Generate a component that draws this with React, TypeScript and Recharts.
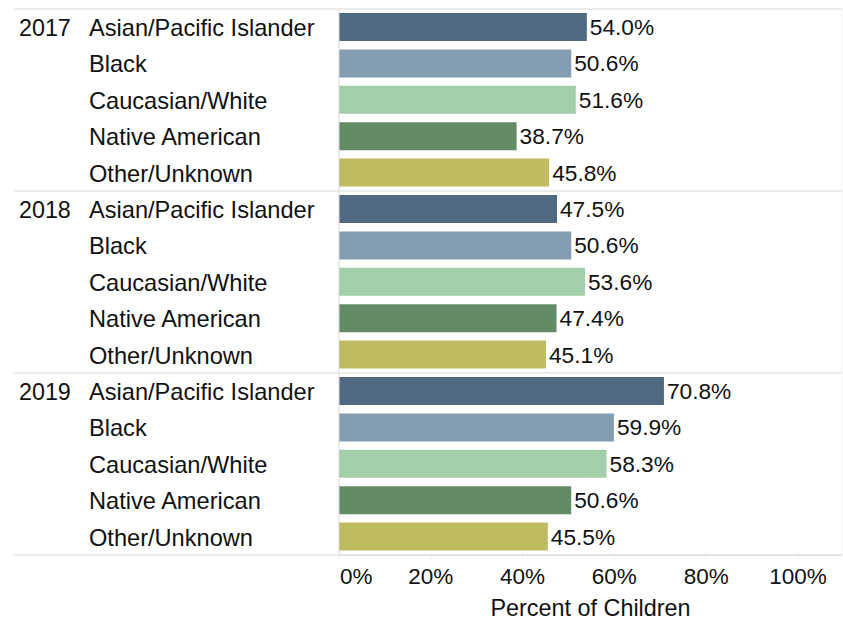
import React from 'react';
import { BarChart, Bar, XAxis, YAxis, Cell, LabelList } from 'recharts';

const years = ['2017', '2018', '2019'];
const races = ['Asian/Pacific Islander', 'Black', 'Caucasian/White', 'Native American', 'Other/Unknown'];
const values2017 = [54.0, 50.6, 51.6, 38.7, 45.8];
const values2018 = [47.5, 50.6, 53.6, 47.4, 45.1];
const values2019 = [70.8, 59.9, 58.3, 50.6, 45.5];
const raceColors = ['#4f6980', '#849db1', '#a2ceaa', '#638b66', '#bfbb60'];
const xTicks = [0, 20, 40, 60, 80, 100];
const axisTitle = 'Percent of Children';

const valuesByYear = [values2017, values2018, values2019];
const data = years.flatMap((year, yi) =>
  races.map((race, ri) => ({ key: `${year}|${race}`, year, race, ri, value: valuesByYear[yi][ri] }))
);

const FONT = '"Liberation Sans", Arial, sans-serif';
const LINE = '#d9d9d9';
const TEXT = '#111';

const YTick = (props: any) => {
  const { y, payload } = props;
  const [year, race] = String(payload.value).split('|');
  const half = payload.offset || 18.2;
  const idx = races.indexOf(race);
  const isLastGroup = year === years[years.length - 1];
  return (
    <g>
      {idx === 0 && (
        <text x={19} y={y} dy="0.37em" fontSize={23.3} fontFamily={FONT} fill={TEXT} textAnchor="start">
          {year}
        </text>
      )}
      <text x={89} y={y} dy="0.37em" fontSize={23.6} fontFamily={FONT} fill={TEXT} textAnchor="start">
        {race}
      </text>
      {idx === 0 && <line x1={13} x2={842} y1={y - half} y2={y - half} stroke={LINE} strokeWidth={1} />}
      {idx === races.length - 1 && isLastGroup && (
        <line x1={13} x2={842} y1={y + half} y2={y + half} stroke={LINE} strokeWidth={1} />
      )}
      <line x1={842} x2={842} y1={y - half} y2={y + half} stroke="#f0f0f0" strokeWidth={1} />
    </g>
  );
};

const XTick = (props: any) => {
  const { x, y, payload } = props;
  const isZero = payload.value === 0;
  return (
    <text
      x={isZero ? x + 1 : x}
      y={y}
      dy={23}
      fontSize={22.5}
      fontFamily={FONT}
      fill={TEXT}
      textAnchor={isZero ? 'start' : 'middle'}
    >
      {`${payload.value}%`}
    </text>
  );
};

export default function App() {
  return (
    <div style={{ position: 'absolute', left: 0, top: 0, background: '#fff' }}>
      <BarChart
        width={843}
        height={620}
        data={data}
        layout="vertical"
        margin={{ top: 9, right: 1, bottom: 0, left: 13 }}
      >
        <XAxis
          type="number"
          domain={[0, 109.6]}
          ticks={xTicks}
          allowDataOverflow
          height={65}
          tick={<XTick />}
          tickSize={4}
          tickLine={{ stroke: '#ececec' }}
          axisLine={{ stroke: LINE }}
          label={{ value: axisTitle, position: 'insideBottom', offset: 4, fontSize: 23.4, fontFamily: FONT, fill: TEXT }}
        />
        <YAxis
          type="category"
          dataKey="key"
          width={326}
          interval={0}
          tick={<YTick />}
          tickLine={false}
          axisLine={{ stroke: LINE }}
        />
        <Bar dataKey="value" barSize={28} isAnimationActive={false}>
          {data.map((d) => (
            <Cell key={d.key} fill={raceColors[d.ri]} />
          ))}
          <LabelList
            dataKey="value"
            position="right"
            offset={3}
            formatter={(v: any) => `${Number(v).toFixed(1)}%`}
            style={{ fontSize: 22.7, fontFamily: FONT, fill: TEXT }}
          />
        </Bar>
      </BarChart>
    </div>
  );
}
